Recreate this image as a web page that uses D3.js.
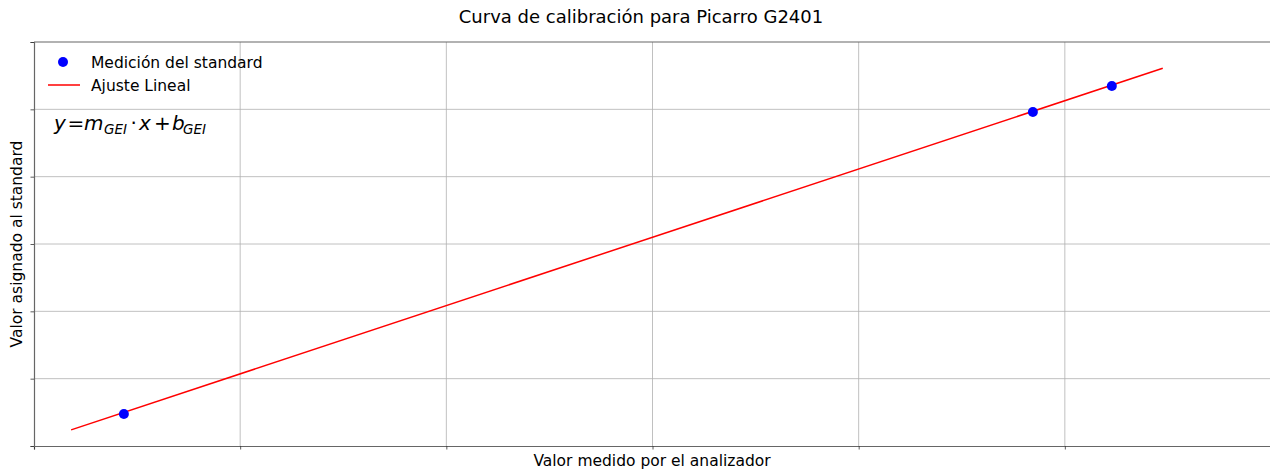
<!DOCTYPE html>
<html>
<head>
<meta charset="utf-8">
<script src="https://cdn.jsdelivr.net/npm/d3@7"></script>
<style>
  body { margin: 0; background: #fff; }
  svg { font-family: "DejaVu Sans", sans-serif; }
</style>
</head>
<body>
<svg id="chart" width="1270" height="470"></svg>
<script>
// measured standard points (arbitrary units, no tick labels in the original)
const measuredX = [0.436, 4.845, 5.228];
const assignedY = [0.475, 4.96, 5.347];
// linear fit endpoints
const fitX = [0.18, 5.475];
const fitY = [0.24, 5.61];
// tick positions
const xTicks = [0, 1, 2, 3, 4, 5, 6];
const yTicks = [0, 1, 2, 3, 4, 5, 6];

const W = 1270, H = 470;
const margin = { left: 34, right: -1, top: 42, bottom: 24 };

const svg = d3.select("#chart");

const x = d3.scaleLinear().domain([0, 6]).range([margin.left, W - margin.right]);
const y = d3.scaleLinear().domain([0, 6]).range([H - margin.bottom, margin.top]);

// grid
svg.append("g").selectAll("line").data(xTicks.slice(1, -1)).join("line")
  .attr("x1", d => x(d)).attr("x2", d => x(d))
  .attr("y1", y(0)).attr("y2", y(6))
  .attr("stroke", "#b0b0b0").attr("stroke-width", 0.8);
svg.append("g").selectAll("line").data(yTicks.slice(1, -1)).join("line")
  .attr("x1", x(0)).attr("x2", x(6))
  .attr("y1", d => y(d)).attr("y2", d => y(d))
  .attr("stroke", "#b0b0b0").attr("stroke-width", 0.8);

// axes (ticks only, no labels)
const xAxis = svg.append("g").attr("transform", `translate(0,${y(0)})`)
  .call(d3.axisBottom(x).tickValues(xTicks).tickSize(3.5).tickFormat(""));
const yAxis = svg.append("g").attr("transform", `translate(${x(0)},0)`)
  .call(d3.axisLeft(y).tickValues(yTicks).tickSize(3.5).tickFormat(""));
[xAxis, yAxis].forEach(a => {
  a.select(".domain").attr("stroke", "#666").attr("stroke-width", 1.2);
  a.selectAll(".tick line").attr("stroke", "#333").attr("stroke-width", 0.8);
});
// top spine
svg.append("line")
  .attr("x1", x(0)).attr("x2", x(6)).attr("y1", y(6)).attr("y2", y(6))
  .attr("stroke", "#666").attr("stroke-width", 1.2);

// fit line
svg.append("path")
  .datum(fitX.map((v, i) => [v, fitY[i]]))
  .attr("d", d3.line().x(d => x(d[0])).y(d => y(d[1])))
  .attr("fill", "none").attr("stroke", "#ff0000").attr("stroke-width", 1.5);

// points
svg.append("g").selectAll("circle").data(measuredX.map((v, i) => [v, assignedY[i]])).join("circle")
  .attr("cx", d => x(d[0])).attr("cy", d => y(d[1])).attr("r", 5)
  .attr("fill", "#0000ff");

// title and labels
svg.append("text").attr("x", 641).attr("y", 23).attr("text-anchor", "middle")
  .attr("font-size", 18).attr("fill", "#000").text("Curva de calibración para Picarro G2401");
svg.append("text").attr("x", 652).attr("y", 466).attr("text-anchor", "middle")
  .attr("font-size", 15.5).attr("fill", "#000").text("Valor medido por el analizador");
svg.append("text").attr("transform", "translate(22,244) rotate(-90)").attr("text-anchor", "middle")
  .attr("font-size", 15.5).attr("fill", "#000").text("Valor asignado al standard");

// legend
const legend = svg.append("g");
legend.append("circle").attr("cx", 63).attr("cy", 62).attr("r", 5).attr("fill", "#0000ff");
legend.append("text").attr("x", 91).attr("y", 67.5).attr("font-size", 15.5).text("Medición del standard");
legend.append("line").attr("x1", 48).attr("x2", 80).attr("y1", 85).attr("y2", 85)
  .attr("stroke", "#ff0000").attr("stroke-width", 1.5);
legend.append("text").attr("x", 91).attr("y", 90.5).attr("font-size", 15.5).text("Ajuste Lineal");

// equation (mathtext-like layout)
const eqParts = [
  { t: "y", x: 54, it: true },
  { t: "=", x: 67.5, it: false },
  { t: "m", x: 84, it: true },
  { t: "GEI", x: 104, it: true, sub: true },
  { t: "·", x: 130.5, it: false },
  { t: "x", x: 139, it: true },
  { t: "+", x: 154, it: false },
  { t: "b", x: 172, it: true },
  { t: "GEI", x: 183, it: true, sub: true }
];
svg.append("g").selectAll("text").data(eqParts).join("text")
  .attr("x", d => d.x).attr("y", d => d.sub ? 133.5 : 130)
  .attr("font-size", d => d.sub ? 13.5 : 20)
  .attr("font-style", d => d.it ? "italic" : "normal")
  .text(d => d.t);
</script>
</body>
</html>
